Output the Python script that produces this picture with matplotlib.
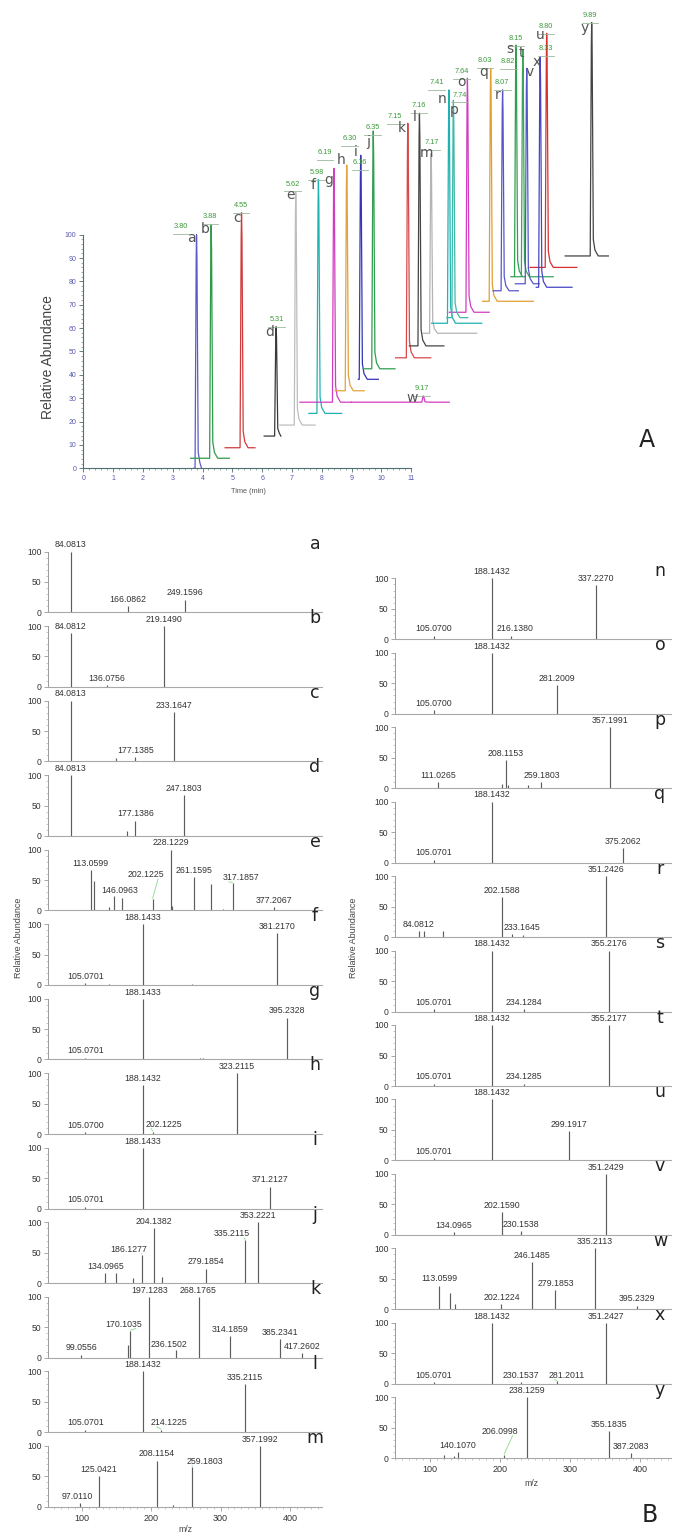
import matplotlib
matplotlib.use('Agg')
import matplotlib.pyplot as plt
import numpy as np
from matplotlib.ticker import MultipleLocator, FixedLocator

plt.rcParams['font.family'] = ['Liberation Sans', 'DejaVu Sans']

# ---------------- Panel A : chromatogram data ----------------
chrom_ids = list('abcdefghijklmnopqrstuvwxy')
chrom_colors = ['#5b5bc8', '#2f9a4a', '#d03a3a', '#3a3a3a', '#bdbdbd', '#1fb2b2', '#d23cc0',
                '#e3a23a', '#3434b4', '#2f9e4e', '#d84848', '#444444', '#b4b4b4', '#1fb2b2',
                '#d23cc0', '#3fb8a8', '#e0a030', '#5656cc', '#30a050', '#3aa65a', '#d83030',
                '#5656cc', '#d23cc0', '#4646c4', '#444444']
chrom_base = [0, 4.3, 8.8, 13.8, 18.5, 23.5, 28.3, 33.2, 38.1, 42.6, 47.3, 52.4, 57.8, 62.1,
              66.8, 64.5, 71.5, 76.0, 82.0, 82.0, 86.0, 79.0, 28.3, 77.5, 90.9]
chrom_start = [3.70, 3.60, 4.76, 6.07, 6.60, 7.57, 7.27, 8.45, 9.23, 9.40, 10.48, 10.94, 11.40,
               11.69, 12.28, 12.20, 13.40, 13.75, 14.35, 14.50, 14.99, 14.50, 9.00, 15.20, 16.17]
chrom_end = [3.97, 4.90, 5.76, 6.63, 7.78, 8.67, 9.00, 9.43, 9.90, 10.46, 11.66, 12.10, 13.20,
             13.37, 13.62, 12.90, 15.10, 14.60, 14.80, 15.77, 16.56, 15.30, 12.28, 16.40, 17.62]
chrom_apex = [3.80, 4.29, 5.31, 6.47, 7.13, 7.89, 8.41, 8.84, 9.31, 9.73, 10.89, 11.28, 11.67,
              12.27, 12.89, 12.42, 13.67, 14.07, 14.52, 14.75, 15.55, 14.88, 11.41, 15.33, 17.06]
chrom_top = [100, 104.2, 109.4, 60.6, 118, 123.7, 128.4, 129.8, 134, 144.4, 147.7, 152, 134.8,
             162, 167, 157.6, 171.2, 162, 181.2, 179, 186.2, 171.2, 31.0, 176.2, 190.8]

rt_text = ['3.80', '3.88', '4.55', '5.31', '5.62', '5.98', '6.19', '6.16', '6.30', '6.35', '7.15',
           '7.16', '7.17', '7.41', '7.74', '7.64', '8.03', '8.07', '8.15', '8.82', '8.33', '8.80',
           '9.17', '9.89']

# label layout (positions in data units of panel A)
rt_pos = [(3.28, 103.4), (4.25, 107.7), (5.29, 112.3), (6.49, 63.8), (7.03, 121.7), (7.83, 126.7),
          (8.11, 135.0), (9.29, 131.0), (8.93, 141.0), (9.71, 146.0), (10.46, 150.5), (11.27, 155.2),
          (11.69, 139.4), (11.86, 165.0), (12.62, 159.8), (12.70, 170.0), (13.48, 174.4),
          (14.06, 165.0), (14.52, 184.0), (14.26, 174.0), (15.53, 179.8), (15.53, 189.0),
          (11.36, 34.2), (17.00, 194.0)]
letter_pos = [(3.64, 98.6), (4.10, 102.3), (5.15, 107.0), (6.24, 58.5), (6.94, 117.0), (7.70, 121.3),
              (8.22, 123.4), (8.64, 132.0), (9.15, 135.5), (9.56, 139.8), (10.68, 145.5),
              (11.11, 150.5), (11.52, 135.1), (12.03, 158.0), (12.70, 165.5), (12.44, 153.4),
              (13.45, 169.8), (13.89, 160.0), (14.32, 179.4), (14.71, 177.6), (15.33, 185.5),
              (14.99, 169.8), (11.02, 30.0), (15.20, 174.0), (16.84, 188.3)]

# ---------------- Panel B : spectra data ----------------
mz_a = [84.0813, 166.0862, 249.1596];                 int_a = [100, 10, 21]
mz_b = [84.0812, 136.0756, 219.1490];                 int_b = [88, 3, 100]
mz_c = [84.0813, 150, 177.1385, 233.1647];            int_c = [100, 5, 7, 81]
mz_d = [84.0813, 165, 177.1386, 247.1803];            int_d = [100, 8, 25, 67]
mz_e = [113.0599, 117, 139, 146.0963, 158, 202.1225, 228.1229, 230, 261.1595, 286, 304,
        317.1857, 377.2067]
int_e = [67, 48, 6, 23, 20, 19, 100, 7, 55, 44, 3, 45, 5]
mz_f = [105.0701, 140, 188.1433, 259, 381.2170];      int_f = [3, 2, 100, 2, 86]
mz_g = [105.0701, 188.1433, 270, 275, 395.2328];      int_g = [3, 100, 3, 3, 69]
mz_h = [105.0700, 188.1432, 202.1225, 323.2115];      int_h = [3, 80, 4, 100]
mz_i = [105.0701, 188.1433, 371.2127];                int_i = [3, 100, 36]
mz_j = [134.0965, 149, 174, 186.1277, 204.1382, 216, 279.1854, 335.2115, 353.2221]
int_j = [16, 16, 8, 47, 91, 10, 24, 71, 100]
mz_k = [99.0556, 166, 170.1035, 197.1283, 236.1502, 268.1765, 314.1859, 385.2341, 417.2602]
int_k = [5, 20, 44, 100, 12, 100, 35, 30, 8]
mz_l = [105.0701, 188.1432, 214.1225, 335.2115];      int_l = [4, 100, 4, 79]
mz_m = [97.0110, 125.0421, 208.1154, 232, 259.1803, 357.1992]
int_m = [6, 50, 76, 3, 66, 100]

mz_n = [105.0700, 188.1432, 216.1380, 337.2270];      int_n = [6, 100, 6, 89]
mz_o = [105.0700, 188.1432, 281.2009];                int_o = [6, 100, 47]
mz_p = [111.0265, 203, 208.1153, 211, 240, 259.1803, 357.1991]
int_p = [10, 7, 46, 6, 5, 10, 100]
mz_q = [105.0701, 188.1432, 375.2062];                int_q = [5, 100, 24]
mz_r = [84.0812, 91, 119, 202.1588, 217, 233.1645, 351.2426]
int_r = [10, 10, 10, 66, 5, 4, 100]
mz_s = [105.0701, 188.1432, 234.1284, 355.2176];      int_s = [4, 100, 4, 100]
mz_t = [105.0701, 188.1432, 234.1285, 355.2177];      int_t = [4, 100, 4, 100]
mz_u = [105.0701, 188.1432, 299.1917];                int_u = [4, 100, 48]
mz_v = [134.0965, 202.1590, 230.1538, 351.2429];      int_v = [4, 37, 6, 100]
mz_w = [113.0599, 128, 136, 202.1224, 246.1485, 279.1853, 335.2113, 395.2329]
int_w = [39, 27, 9, 9, 78, 31, 100, 6]
mz_x = [105.0701, 188.1432, 230.1537, 281.2011, 351.2427]; int_x = [3, 100, 3, 4, 100]
mz_y = [120, 135, 140.1070, 206.0998, 238.1259, 355.1835, 387.2083]
int_y = [6, 4, 10, 6, 100, 45, 9]

left_panels = [('a', mz_a, int_a), ('b', mz_b, int_b), ('c', mz_c, int_c), ('d', mz_d, int_d),
               ('e', mz_e, int_e), ('f', mz_f, int_f), ('g', mz_g, int_g), ('h', mz_h, int_h),
               ('i', mz_i, int_i), ('j', mz_j, int_j), ('k', mz_k, int_k), ('l', mz_l, int_l),
               ('m', mz_m, int_m)]
right_panels = [('n', mz_n, int_n), ('o', mz_o, int_o), ('p', mz_p, int_p), ('q', mz_q, int_q),
                ('r', mz_r, int_r), ('s', mz_s, int_s), ('t', mz_t, int_t), ('u', mz_u, int_u),
                ('v', mz_v, int_v), ('w', mz_w, int_w), ('x', mz_x, int_x), ('y', mz_y, int_y)]

# offset label layout: (panel, label) -> (text m/z, text height), leader line flag
label_offsets = {('e', '146.0963'): (154, 32, False), ('e', '202.1225'): (192, 59, True),
                 ('e', '317.1857'): (330, 54, True), ('h', '202.1225'): (218, 16, True),
                 ('j', '335.2115'): (316, 81, True), ('j', '186.1277'): (168, 56, True),
                 ('k', '170.1035'): (160, 55, True), ('k', '236.1502'): (226, 21, False),
                 ('l', '214.1225'): (226, 16, True), ('m', '259.1803'): (277, 75, True),
                 ('m', '97.0110'): (93, 17, False), ('n', '216.1380'): (221, 18, False),
                 ('x', '281.2011'): (296, 14, True), ('y', '206.0998'): (200, 44, True),
                 ('r', '233.1645'): (232, 16, False)}

# ---------------- figure ----------------
W, H = 673, 1532
fig = plt.figure(figsize=(W / 100, H / 100), dpi=100)


def rect(x0, y_top, x1, y_bot):
    return [x0 / W, 1 - y_bot / H, (x1 - x0) / W, (y_bot - y_top) / H]


# ---- Panel A ----
axA = fig.add_axes(rect(83.3, 1.1, 664.4, 468.3))
axA.set_facecolor('none')
axA.set_xlim(0, 19.5)
axA.set_ylim(0, 200)
for s in ['top', 'right']:
    axA.spines[s].set_visible(False)
axA.spines['left'].set_bounds(0, 100)
axA.spines['bottom'].set_bounds(0, 11)
axA.spines['left'].set_color('#4f6f70')
axA.spines['bottom'].set_color('#4f6f70')
axA.spines['left'].set_linewidth(0.8)
axA.spines['bottom'].set_linewidth(0.8)
axA.xaxis.set_major_locator(FixedLocator(np.arange(0, 12, 1)))
axA.xaxis.set_minor_locator(FixedLocator(np.arange(0, 11.01, 0.2)))
axA.yaxis.set_major_locator(FixedLocator(np.arange(0, 101, 10)))
axA.yaxis.set_minor_locator(FixedLocator(np.arange(0, 100.1, 2)))
axA.tick_params(axis='both', which='major', labelsize=5, labelcolor='#5858b0', color='#4f6f70',
                length=3, width=0.6, pad=2)
axA.tick_params(axis='both', which='minor', color='#4f6f70', length=1.5, width=0.4)

# peak outline template (style): relative offsets from apex and fraction of height
rel_t = [-0.05, -0.012, 0.0, 0.014, 0.055, 0.11, 0.22]
rel_h = [0.0, 0.9, 1.0, 0.9, 0.07, 0.025, 0.0]

for i, cid in enumerate(chrom_ids):
    t0, t1 = chrom_start[i], chrom_end[i]
    b, tp, hp = chrom_base[i], chrom_apex[i], chrom_top[i] - chrom_base[i]
    ts = [t0] + [tp + r for r in rel_t] + [t1]
    vs = [b] + [b + f * hp for f in rel_h] + [b]
    pts = sorted(zip(ts, vs), key=lambda p: p[0])
    pts = [p for p in pts if t0 <= p[0] <= t1 or p[1] != b]
    axA.plot([p[0] for p in pts], [p[1] for p in pts], color=chrom_colors[i], lw=0.9,
             clip_on=False, solid_joinstyle='round')

for txt, (tx, ty) in zip(rt_text, rt_pos):
    axA.text(tx, ty, txt, fontsize=5.3, color='#3a9a3a', ha='center', va='center')
    axA.plot([tx - 0.28, tx + 0.28], [ty - 3.2, ty - 3.2], color='#9cb89c', lw=0.6, clip_on=False)
for cid, (tx, ty) in zip(chrom_ids, letter_pos):
    axA.text(tx, ty, cid, fontsize=10, color='#555555', ha='center', va='center',
             family='DejaVu Sans')

fig.text(48.3 / W, 1 - 356.7 / H, 'Relative Abundance', rotation=90, fontsize=10,
         color='#444444', ha='center', va='center')
fig.text(248.3 / W, 1 - 491.7 / H, 'Time (min)', fontsize=5.3, color='#555555',
         ha='center', va='center')
fig.text(647 / W, 1 - 440 / H, 'A', fontsize=17, color='#222222', ha='center', va='center',
         family='DejaVu Sans')


# ---- Panel B ----
def draw_spectrum(letter, mzs, ints, x0, x1, base_py, pitch, px100, xlim, bottom, letter_px):
    ax = fig.add_axes(rect(x0, base_py - pitch, x1, base_py))
    ax.set_facecolor('none')
    ax.set_xlim(*xlim)
    ax.set_ylim(0, pitch / px100 * 100)
    for s in ['top', 'right']:
        ax.spines[s].set_visible(False)
    ax.spines['left'].set_bounds(0, 100)
    ax.spines['left'].set_color('#9a9a9a')
    ax.spines['bottom'].set_color('#a8a8a8')
    ax.spines['left'].set_linewidth(0.7)
    ax.spines['bottom'].set_linewidth(0.8)
    ax.yaxis.set_major_locator(FixedLocator([0, 50, 100]))
    ax.yaxis.set_minor_locator(FixedLocator(np.arange(0, 101, 10)))
    ax.tick_params(axis='y', which='major', labelsize=6.2, labelcolor='#333333',
                   color='#9a9a9a', length=3, width=0.6, pad=1.5)
    ax.tick_params(axis='y', which='minor', color='#b0b0b0', length=1.8, width=0.5)
    if bottom:
        ax.xaxis.set_major_locator(FixedLocator([100, 200, 300, 400]))
        ax.xaxis.set_minor_locator(MultipleLocator(10))
        ax.tick_params(axis='x', which='major', labelsize=6.5, labelcolor='#333333',
                       color='#9a9a9a', length=3, width=0.6, pad=2)
        ax.tick_params(axis='x', which='minor', color='#b0b0b0', length=1.6, width=0.5)
    else:
        ax.set_xticks([])
    ax.vlines(mzs, 0, ints, color='#5c5c5c', lw=0.85)
    for mz, it in zip(mzs, ints):
        if round(mz, 1) == mz:
            continue
        lab = f'{mz:.4f}'
        key = (letter, lab)
        if key in label_offsets:
            tx, ty, leader = label_offsets[key]
            ax.text(tx, ty, lab, fontsize=6.3, color='#333333', ha='center', va='center')
            if leader:
                sgn = 1 if tx > mz else -1
                ax.plot([mz, tx - sgn * 18], [it + 1, ty - 7], color='#8fd88f', lw=0.6,
                        clip_on=False)
        else:
            ax.annotate(lab, (mz, it), xytext=(0, 1.6), textcoords='offset points',
                        fontsize=6.3, color='#333333', ha='center', va='bottom',
                        annotation_clip=False)
    fig.text(letter_px / W, 1 - (base_py - pitch + 6) / H, letter, fontsize=12.5,
             color='#222222', ha='center', va='center', family='DejaVu Sans')
    return ax


for k, (letter, mzs, ints) in enumerate(left_panels):
    draw_spectrum(letter, mzs, ints, 47.7, 321.7, 612.3 + k * 74.53, 74.53, 60.7, (51.0, 445.6),
                  k == len(left_panels) - 1, 315)
for k, (letter, mzs, ints) in enumerate(right_panels):
    draw_spectrum(letter, mzs, ints, 395.0, 671.0, 639.3 + k * 74.45, 74.45, 61.0, (50.0, 444.3),
                  k == len(right_panels) - 1, 660)

fig.text(18.3 / W, 1 - 938 / H, 'Relative Abundance', rotation=90, fontsize=6.5,
         color='#444444', ha='center', va='center')
fig.text(353.3 / W, 1 - 938 / H, 'Relative Abundance', rotation=90, fontsize=6.5,
         color='#444444', ha='center', va='center')
fig.text(185 / W, 1 - 1530 / H, 'm/z', fontsize=6.3, color='#444444', ha='center', va='center')
fig.text(531 / W, 1 - 1484 / H, 'm/z', fontsize=6.3, color='#444444', ha='center', va='center')
fig.text(650 / W, 1 - 1515 / H, 'B', fontsize=17, color='#222222', ha='center', va='center',
         family='DejaVu Sans')

fig.savefig('out.png', dpi=100)
